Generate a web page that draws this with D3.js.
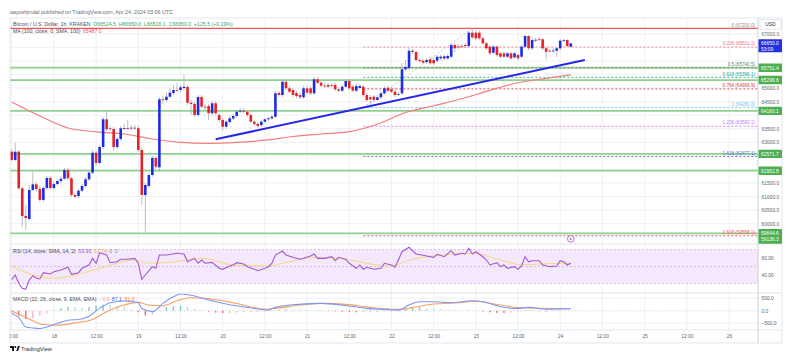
<!DOCTYPE html>
<html><head><meta charset="utf-8">
<script src="https://cdn.jsdelivr.net/npm/d3@7"></script>
<style>html,body{margin:0;padding:0;background:#fff;}svg{display:block;font-family:"Liberation Sans",Arial,sans-serif;}</style>
</head><body>
<svg id="c" width="789" height="357"></svg>
<script>
// ---------------- DATA ----------------
const startTime = "2024-04-17T12:00:00Z"; // first hourly candle
const open = [62654,62348,62654,61305,60284,60173,61242,61452,61279,60874,
61316,61685,61316,61463,61574,61659,61980,61674,61058,61021,
61216,61390,61637,61880,62617,62238,62828,63849,63517,63491,
62828,63123,63517,63528,63517,63539,63517,62717,61058,61390,
61795,62422,62079,64586,64561,64682,64819,64929,64929,65003,
65040,64461,64413,64007,64671,64313,64339,64070,64439,64007,
63823,63576,63749,63878,63971,64129,64166,64129,64007,63760,
63676,63639,63760,63849,63886,63945,64819,64745,65235,64992,
64929,64819,64745,64660,64992,64992,64808,65324,65198,65088,
65114,65114,65114,64955,64903,65051,65261,65051,64903,65003,
65051,64745,64660,64682,64561,64660,64808,65014,64955,64867,
64756,64808,65692,65740,66378,66330,66035,66009,65961,66061,
66035,66009,66098,66090,66098,66157,66588,66526,66551,66588,
66551,67042,67042,67042,66835,66651,66526,66304,66526,66282,
66282,66157,66282,66135,66219,66157,66526,66920,66467,66773,
66799,66799,66467,66378,66378,66378,66467,66747,66773,66524.5];
const high = [62754,62986,62717,61353,60689,61427,61906,61537,61390,61390,
61758,61758,61537,61648,61758,62053,62053,61722,61132,61279,
61463,61722,61943,62717,62680,62901,63934,64129,63602,63565,
63196,63602,63676,63823,63639,63639,63602,62791,61500,61869,
62496,62496,64671,64708,64856,65003,65114,65187,65114,65482,
65114,64561,64487,64745,64745,64413,64413,64524,64524,64081,
63897,63823,63971,64044,64191,64266,64266,64191,64081,63823,
63749,63823,63897,63934,64007,64892,64892,65298,65298,65077,
65003,64892,64819,65077,65077,65077,65409,65409,65261,65187,
65187,65187,65187,65040,65114,65335,65335,65114,65150,65150,
65114,64819,64745,64745,64745,64892,65077,65077,65040,64966,
64856,65925,66035,66478,66441,66404,66109,66072,66109,66146,
66109,66220,66220,66220,66256,66662,66662,66625,66625,66662,
67105,67200,67123,67123,66883,66699,66588,66588,66588,66330,
66330,66330,66330,66330,66256,66588,66957,66957,66846,66846,
66883,66846,66514,66441,66478,66514,66810,66846,66810,66650];
const low = [62311,62311,61242,59889,59767,60099,61205,61168,60800,60800,
61242,61242,61242,61390,61500,61611,61611,60984,60947,60947,
61168,61316,61574,61832,62127,62164,62754,63418,63418,62680,
62754,63049,63454,63454,63454,63454,62643,60689,59705,61316,
61722,62017,61906,64413,64487,64634,64745,64856,64856,64929,
64376,64007,63934,63934,64266,64192,63823,64007,64007,63749,
63454,63491,63676,63823,63897,64081,64081,63934,63713,63602,
63528,63565,63713,63786,63823,63897,64671,64671,64929,64819,
64671,64634,64597,64597,64782,64745,64745,65150,65040,65003,
65003,65040,64892,64856,64856,65003,64929,64856,64856,64966,
64671,64487,64281,64487,64524,64597,64745,64856,64819,64671,
64708,64745,65630,65667,66256,65962,65925,65888,65888,65851,
65851,65961,66035,66035,66035,66109,66330,66441,66478,66478,
66478,66810,66773,66773,66588,66404,66219,66256,66146,66109,
66109,66109,66035,66072,66035,66109,66478,66404,66404,66699,
66736,66404,66061,66330,66293,66146,66404,66699,66514,66516.1];
const close = [62348,62654,61305,60284,60210,61242,61452,61279,60874,61316,
61685,61316,61463,61574,61659,61980,61674,61058,60995,61216,
61390,61637,61880,62617,62238,62828,63849,63480,63491,62828,
63123,63517,63528,63517,63539,63517,62717,61058,61427,61795,
62422,62101,64586,64561,64682,64830,64929,64920,65029,65051,
64461,64413,64007,64671,64313,64300,64070,64439,64070,63823,
63576,63760,63886,63971,64129,64166,64129,64007,63760,63676,
63602,63760,63849,63886,63945,64808,64745,65235,64992,64867,
64745,64708,64660,64992,64830,64808,65324,65198,65088,65080,
65051,65105,64955,64903,65051,65261,64992,64903,65077,65077,
64745,64561,64586,64561,64660,64808,64992,64903,64867,64745,
64782,65692,65777,66378,66330,66035,65998,65936,66035,65914,
65914,66157,66157,66170,66183,66588,66467,66520,66545,66551,
67042,66872,66835,66835,66651,66467,66282,66526,66219,66157,
66157,66282,66098,66282,66098,66526,66920,66467,66773,66780,
66790,66467,66341,66370,66385,66467,66747,66773,66551,66650];

// MA(100) read every 8 candles
const maIdx = [0,8,16,24,32,40,48,56,64,72,80,88,96,104,112,120,128,136,144,152,159];
const maVal = [64487,63971,63528,63384,63307,63123,63001,62960,62994,63078,63215,63307,63392,63665,64100,64347,64605,64918,65195,65361,65487];

// horizontal support / resistance lines (green)
const greenLevels = [65751.4,65296.6,64160.1,62571.7,61952.8,59644.6];
const greenBoxes = [65751.4,65296.6,64160.1,62571.7,61952.8,59644.6,59136.3];
const topLine = 67200.0;

// Fibonacci retracement
const fibRatios = ["0","0.236","0.5","0.618","0.764","1","1.236","1.618","2.618"];
const fibLevels = [67200.0,66511.1,65740.5,65396.1,64969.9,64281.0,63592.1,62477.1,59558.1];
const fibColors = ["#8a8d96","#f27a80","#6f7a70","#28a58c","#d0404a","#6ec0ee","#c27ef0","#5c6bd0","#f05560"];
const fibStartIdx = 100, fibEndIdx = 131;

// Trend line (manual drawing)
const trendTimes = ["2024-04-19T22:00:00Z","2024-04-24T07:00:00Z"];
const trendPrices = [63111, 66035];

// RSI
const rsiIdx = [0,1,2,3,4,5,6,7,8,9,11,12,14,16,17,19,20,22,23,24,25,27,28,30,31,33,35,36,37,38,40,41,42,44,47,49,50,52,53,54,55,57,59,60,62,63,64,66,67,69,70,72,73,74,75,77,78,80,82,83,85,86,87,89,91,92,93,95,96,98,99,100,101,103,105,106,108,109,110,111,113,115,117,118,120,121,123,125,126,128,129,130,131,132,134,135,136,138,139,140,141,143,144,145,146,147,148,150,151,153,155,156,157,158,159];
const rsiVal = [34.9,40,30.2,24.4,23.2,34.1,39.2,36.1,35.3,42.7,41.2,43.9,45.9,49.1,40.8,42.7,47.9,51.8,59.6,53.8,66.2,63.5,54.5,55.6,58.5,58.5,59.6,53.8,34.9,40,49.8,47.9,63.5,63.5,65.5,64.7,55.6,59.6,53.8,57.6,53.8,54.9,47.9,46.7,50.6,51.8,54.5,52.9,49.8,46.7,45.1,47.9,49.8,53.8,63.5,68.2,63.5,60.8,58.5,59.6,62.4,64.7,59.6,59.6,61.5,56.8,60.8,58.5,53.8,47.9,51.8,46.7,49.1,46.7,47.9,53.8,51.8,49.1,58,67.4,72.6,64.7,63.2,62.4,60.8,64.4,61.5,68.6,63.5,65.5,64.7,71.4,64.7,67.4,61.5,57.6,51.8,54.5,49.8,51.8,47.9,49.8,46.7,50.6,61.5,55.6,56.8,56.8,51.8,49.8,50.6,56.8,55.6,51.8,53.95];
const rsiMaIdx = [0,6,12,18,25,35,39,44,54,63,73,77,87,96,104,108,113,120,131,139,145,150,159];
const rsiMaVal = [50.6,40,36.1,40,47.9,57.6,54,54.5,59.6,51.8,50.6,53.8,60.8,57.6,51.8,50.5,57.6,62.4,65.5,57.6,51.8,52.9,53.74];
const rsiBands = [70,50,30];

// MACD
const macdIdx = [0,2,4,6,8,10,13,16,19,22,25,28,32,36,37,40,43,46,48,51,55,61,69,73,75,79,88,96,101,106,110,113,116,120,125,131,134,139,144,147,152,159];
const macdVal = [-105,-266,-645,-685,-710,-645,-508,-375,-347,-214,97,323,391,330,100,-40,298,565,673,621,472,270,97,28,137,230,298,190,97,56,28,230,363,363,323,403,363,161,97,137,69,87.1];
const sigIdx = [0,4,9,13,18,23,27,31,36,39,43,47,51,55,63,72,75,82,88,95,102,110,115,120,127,132,139,145,159];
const sigVal = [-12,-266,-548,-577,-484,-347,-40,190,339,230,200,403,524,500,323,69,97,230,298,258,137,56,150,270,323,380,230,121,91];
const histIdx = [0,2,4,6,8,10,12,14,16,18,20,22,24,26,28,30,32,34,36,38,40,42,44,46,48,50,52,54,56,58,60,62,64,66,68,70,72,74,76,78,80,82,84,86,88,90,92,94,96,98,100,102,104,106,108,110,112,114,116,118,120,122,124,126,128,130,132,134,136,138,140,142,144,146,148,150,152,154,156,158];
const histVal = [-90,-200,-330,-300,-200,-100,10,100,160,140,120,150,210,250,240,210,160,60,-60,-190,-150,20,150,180,200,150,90,30,-30,-70,-90,-90,-75,-60,-45,-40,-35,0,40,55,50,40,25,15,5,-10,-25,-40,-55,-60,-60,-55,-45,-35,-25,-20,90,140,140,110,90,60,30,15,10,15,5,-30,-60,-85,-90,-70,-40,15,-5,-20,-25,-20,-10,-4];

// Axis ticks
const priceTicks = [59500,60000,60500,61000,61500,62000,62500,63000,63500,64000,64500,65000,65500,66000,66500,67000];
const timeTicks = ["2024-04-17T12:00:00Z","2024-04-18T00:00:00Z","2024-04-18T12:00:00Z","2024-04-19T00:00:00Z","2024-04-19T12:00:00Z","2024-04-20T00:00:00Z","2024-04-20T12:00:00Z","2024-04-21T00:00:00Z","2024-04-21T12:00:00Z","2024-04-22T00:00:00Z","2024-04-22T12:00:00Z","2024-04-23T00:00:00Z","2024-04-23T12:00:00Z","2024-04-24T00:00:00Z","2024-04-24T12:00:00Z","2024-04-25T00:00:00Z","2024-04-25T12:00:00Z","2024-04-26T00:00:00Z"];
const rsiTicks = [60,40];
const macdTicks = [500,0,-500];

// ---------------- LAYOUT ----------------
const L = 10, R = 758, AR = 782;
const mainTop = 18, mainBot = 244, rsiBot = 293, macdBot = 330, axisBot = 343;
const svg = d3.select("#c");
svg.append("rect").attr("width",789).attr("height",357).attr("fill","#fff");

const t0 = new Date(startTime).getTime();
const tAt = i => new Date(t0 + i*3600e3);
const x = d3.scaleUtc().domain([new Date("2024-04-18T00:00:00Z"), new Date("2024-04-26T00:00:00Z")]).range([53.9, 729]);
const y = d3.scaleLinear().domain([59644.6, 65751.4]).range([233.3, 67.7]);
const yR = d3.scaleLinear().domain([40, 60]).range([275, 258]);
const yM = d3.scaleLinear().domain([-500, 500]).range([323.3, 298.3]);

const defs = svg.append("defs");
function clip(id, y0, y1){ defs.append("clipPath").attr("id",id).append("rect").attr("x",L).attr("y",y0).attr("width",R-L).attr("height",y1-y0); }
clip("cm", mainTop, mainBot); clip("cr", mainBot, rsiBot); clip("cd", rsiBot, macdBot); clip("ct", macdBot, axisBot);

const gridC = "#eceef2";
const tTicks = timeTicks.map(s => new Date(s));
const inPlot = tTicks.filter(d => x(d) >= L && x(d) <= R);
// vertical grid
svg.append("g").selectAll("line").data(inPlot).join("line")
  .attr("x1",d=>x(d)).attr("x2",d=>x(d)).attr("y1",mainTop).attr("y2",macdBot)
  .attr("stroke",gridC).attr("stroke-width",0.8);
// horizontal grid main
const gGrid = svg.append("g").attr("clip-path","url(#cm)");
gGrid.selectAll("line").data(priceTicks).join("line")
  .attr("x1",L).attr("x2",R).attr("y1",d=>y(d)).attr("y2",d=>y(d))
  .attr("stroke",gridC).attr("stroke-width",0.8);

// ---------------- MAIN PANEL ----------------
const gm = svg.append("g").attr("clip-path","url(#cm)");
gm.selectAll("line.gl").data(greenLevels).join("line").attr("class","gl")
  .attr("x1",L).attr("x2",R).attr("y1",d=>y(d)).attr("y2",d=>y(d))
  .attr("stroke","#8fd08f").attr("stroke-width",1.7);
gm.append("line").attr("x1",L).attr("x2",R).attr("y1",y(topLine)).attr("y2",y(topLine))
  .attr("stroke","#f05a5a").attr("stroke-width",1.2);
const fx0 = x(tAt(fibStartIdx));
gm.selectAll("line.fib").data(fibLevels.slice(1)).join("line").attr("class","fib")
  .attr("x1",fx0).attr("x2",R).attr("y1",d=>y(d)).attr("y2",d=>y(d))
  .attr("stroke",(d,i)=>fibColors[i+1]).attr("stroke-width",0.9).attr("stroke-dasharray","2,2");
gm.append("line").attr("x1",fx0).attr("y1",y(fibLevels[5])).attr("x2",x(tAt(fibEndIdx))).attr("y2",y(fibLevels[0]))
  .attr("stroke","#b8bbc3").attr("stroke-width",0.8).attr("stroke-dasharray","2,2");
svg.append("g").selectAll("text").data(fibLevels).join("text")
  .attr("x",755).attr("y",d=>y(d)-1.8).attr("text-anchor","end").attr("font-size",4.6)
  .attr("fill",(d,i)=>fibColors[i]).text((d,i)=>`${fibRatios[i]} (${d.toFixed(1)})`);

gm.append("path").datum(maIdx.map((d,i)=>[d,maVal[i]]))
  .attr("fill","none").attr("stroke","#f27c7c").attr("stroke-width",1.2)
  .attr("d", d3.line().curve(d3.curveMonotoneX).x(d=>x(tAt(d[0]))).y(d=>y(d[1])));

const cd = open.map((o,i)=>({t:tAt(i),o,h:high[i],l:low[i],c:close[i]}));
gm.selectAll("line.wick").data(cd).join("line").attr("class","wick")
  .attr("x1",d=>x(d.t)).attr("x2",d=>x(d.t)).attr("y1",d=>y(d.h)).attr("y2",d=>y(d.l))
  .attr("stroke","#a9acb4").attr("stroke-width",0.8);
gm.selectAll("rect.body").data(cd).join("rect").attr("class","body")
  .attr("x",d=>x(d.t)-1.3).attr("width",2.6)
  .attr("y",d=>Math.min(y(d.o),y(d.c)))
  .attr("height",d=>Math.max(0.8,Math.abs(y(d.o)-y(d.c))))
  .attr("fill",d=>d.c>=d.o?"#1f2be0":"#e5222a");

gm.append("line")
  .attr("x1",x(new Date(trendTimes[0]))).attr("y1",y(trendPrices[0]))
  .attr("x2",x(new Date(trendTimes[1]))).attr("y2",y(trendPrices[1]))
  .attr("stroke","#2626e6").attr("stroke-width",2);

const ex = x(new Date("2024-04-24T03:00:00Z"));
svg.append("circle").attr("cx",ex).attr("cy",239).attr("r",3.3).attr("fill","#fff").attr("stroke","#b565d8").attr("stroke-width",0.9);
svg.append("path").attr("d",`M${ex-1},${237.6} L${ex+1.4},${239} L${ex-1},${240.4} Z`).attr("fill","#b565d8");

// ---------------- RSI PANEL ----------------
const gr = svg.append("g").attr("clip-path","url(#cr)");
gr.append("rect").attr("x",L).attr("width",R-L).attr("y",yR(70)).attr("height",yR(30)-yR(70)).attr("fill","#f4e9fc");
gr.selectAll("line.rb").data(rsiBands).join("line").attr("class","rb")
  .attr("x1",L).attr("x2",R).attr("y1",d=>yR(d)).attr("y2",d=>yR(d))
  .attr("stroke","#cdb8dc").attr("stroke-width",0.8).attr("stroke-dasharray","2,2");
gr.append("path").datum(rsiMaIdx.map((d,i)=>[d,rsiMaVal[i]]))
  .attr("fill","none").attr("stroke","#f7d77c").attr("stroke-width",1)
  .attr("d", d3.line().curve(d3.curveMonotoneX).x(d=>x(tAt(d[0]))).y(d=>yR(d[1])));
gr.append("path").datum(rsiIdx.map((d,i)=>[d,rsiVal[i]]))
  .attr("fill","none").attr("stroke","#a557d2").attr("stroke-width",1.1)
  .attr("d", d3.line().x(d=>x(tAt(d[0]))).y(d=>yR(d[1])));

// ---------------- MACD PANEL ----------------
const gd = svg.append("g").attr("clip-path","url(#cd)");
gd.selectAll("line.mg").data([500,-500]).join("line").attr("class","mg")
  .attr("x1",L).attr("x2",R).attr("y1",d=>yM(d)).attr("y2",d=>yM(d)).attr("stroke",gridC).attr("stroke-width",0.8);
gd.append("line").attr("x1",L).attr("x2",R).attr("y1",yM(0)).attr("y2",yM(0))
  .attr("stroke","#c9ccd3").attr("stroke-width",0.7).attr("stroke-dasharray","1.5,1.5");
gd.selectAll("rect.h").data(histIdx.map((d,i)=>({i:d,v:histVal[i],p:i>0?histVal[i-1]:histVal[i]}))).join("rect").attr("class","h")
  .attr("x",d=>x(tAt(d.i))-0.7).attr("width",1.4)
  .attr("y",d=>Math.min(yM(d.v),yM(0))).attr("height",d=>Math.abs(yM(d.v)-yM(0)))
  .attr("fill",d=> d.v>=0 ? (d.v>=d.p?"#7fcbc2":"#b8e3de") : (d.v<d.p?"#f26a72":"#f9b9be"));
gd.append("path").datum(sigIdx.map((d,i)=>[d,sigVal[i]]))
  .attr("fill","none").attr("stroke","#f7a064").attr("stroke-width",1.1)
  .attr("d", d3.line().curve(d3.curveMonotoneX).x(d=>x(tAt(d[0]))).y(d=>yM(d[1])));
gd.append("path").datum(macdIdx.map((d,i)=>[d,macdVal[i]]))
  .attr("fill","none").attr("stroke","#7d96f5").attr("stroke-width",1.1)
  .attr("d", d3.line().curve(d3.curveMonotoneX).x(d=>x(tAt(d[0]))).y(d=>yM(d[1])));

// ---------------- FRAME / SEPARATORS ----------------
const sepC = "#dfe2e8";
[mainBot, rsiBot, macdBot].forEach(v=>svg.append("line").attr("x1",L).attr("x2",AR).attr("y1",v).attr("y2",v).attr("stroke",sepC).attr("stroke-width",0.9));
svg.append("line").attr("x1",R).attr("x2",R).attr("y1",mainTop).attr("y2",axisBot).attr("stroke","#c9ccd3").attr("stroke-width",0.9);
svg.append("rect").attr("x",L).attr("y",mainTop).attr("width",AR-L).attr("height",axisBot-mainTop).attr("fill","none").attr("stroke",sepC).attr("stroke-width",0.8);

// ---------------- AXES ----------------
const axC = "#60636e";
function styleAxis(g){ g.select(".domain").remove(); g.selectAll("text").attr("fill",axC); g.attr("font-family",null); }
// price labels hidden by value boxes (as in TradingView)
const cpPrice = close[close.length-1];
const boxCenters = greenBoxes.map(v=>Math.min(y(v), mainBot-4.4)).concat([y(cpPrice)+2.5]);
const visiblePriceTicks = priceTicks.filter(p => boxCenters.every(c => Math.abs(y(p)-c) > (c===y(cpPrice)+2.5 ? 9 : 7.5)));
const pa = svg.append("g").attr("transform",`translate(${R},0)`)
  .call(d3.axisRight(y).tickValues(visiblePriceTicks).tickFormat(d=>d.toFixed(1)).tickSize(0).tickPadding(3.5));
styleAxis(pa); pa.attr("font-size",4.9);
const ra = svg.append("g").attr("transform",`translate(${R},0)`)
  .call(d3.axisRight(yR).tickValues(rsiTicks).tickFormat(d=>d.toFixed(2)).tickSize(0).tickPadding(3.5));
styleAxis(ra); ra.attr("font-size",4.9);
const ma = svg.append("g").attr("transform",`translate(${R},0)`)
  .call(d3.axisRight(yM).tickValues(macdTicks).tickFormat(d=>(d<0?"\u2212":"")+Math.abs(d).toFixed(1)).tickSize(0).tickPadding(3.5));
styleAxis(ma); ma.attr("font-size",4.9);
defs.append("clipPath").attr("id","ctt").append("rect").attr("x",L).attr("y",0).attr("width",R-L).attr("height",20);
const ta = svg.append("g").attr("transform",`translate(0,${macdBot})`).attr("clip-path","url(#ctt)")
  .call(d3.axisBottom(x).tickValues(tTicks).tickFormat(d=>d.getUTCHours()===0?String(d.getUTCDate()):"12:00").tickSize(0).tickPadding(5));
styleAxis(ta); ta.attr("font-size",4.8);

// USD box
svg.append("rect").attr("x",760).attr("y",19.8).attr("width",21).attr("height",9.4).attr("fill","#fff").attr("stroke","#d6d9df").attr("stroke-width",0.7);
svg.append("text").attr("x",770.5).attr("y",26.3).attr("text-anchor","middle").attr("font-size",4.9).attr("fill","#2a2e39").text("USD");

// green value boxes
const gb = svg.append("g");
greenBoxes.forEach(v=>{
  let cy = Math.min(y(v), mainBot-4.4);
  gb.append("rect").attr("x",R+0.5).attr("y",cy-4.2).attr("width",AR-R-0.5).attr("height",8.4).attr("fill","#4caf50").attr("rx",0.6);
  gb.append("text").attr("x",R+3).attr("y",cy+1.8).attr("font-size",4.9).attr("fill","#fff").text(v.toFixed(1));
});
// current price box
svg.append("rect").attr("x",R+0.5).attr("y",y(cpPrice)-4).attr("width",AR-R-0.5).attr("height",13).attr("fill","#2430dc").attr("rx",0.6);
svg.append("text").attr("x",R+3).attr("y",y(cpPrice)+1.8).attr("font-size",4.9).attr("fill","#fff").text(cpPrice.toFixed(1));
svg.append("text").attr("x",R+3).attr("y",y(cpPrice)+7.3).attr("font-size",4.9).attr("fill","#fff").text("53:09");

// ---------------- TEXTS ----------------
svg.append("text").attr("x",10).attr("y",14).attr("font-size",5.3).attr("fill","#6a6d78")
  .text("aayushjindal published on TradingView.com, Apr 24, 2024 03:06 UTC");
const lg1 = svg.append("text").attr("x",13).attr("y",25.7).attr("font-size",5.2).attr("fill","#4a4d58").attr("xml:space","preserve");
lg1.append("tspan").text("Bitcoin / U.S. Dollar, 1h, KRAKEN");
lg1.append("tspan").attr("dx",2.5).attr("fill","#3d9f70")
  .text(`O${open[159].toFixed(1)}  H${high[159].toFixed(1)}  L${low[159].toFixed(1)}  C${close[159].toFixed(1)}  +125.5 (+0.19%)`);
const lg2 = svg.append("text").attr("x",13).attr("y",32.6).attr("font-size",5.2).attr("fill","#4a4d58");
lg2.append("tspan").text("MA (100, close, 0, SMA, 100)");
lg2.append("tspan").attr("dx",2.5).attr("fill","#f05a5a").text(maVal[maVal.length-1].toFixed(1));

const lg3 = svg.append("text").attr("x",13).attr("y",252.5).attr("font-size",5.2).attr("fill","#4a4d58");
lg3.append("tspan").text("RSI (14, close, SMA, 14, 2)");
lg3.append("tspan").attr("dx",2.5).attr("fill","#a557d2").text(rsiVal[rsiVal.length-1].toFixed(2));
lg3.append("tspan").attr("dx",2.5).attr("fill","#e9b93a").text(rsiMaVal[rsiMaVal.length-1].toFixed(2));
lg3.append("tspan").attr("dx",2.5).attr("fill","#8a8d96").text("0");
lg3.append("tspan").attr("dx",2.5).attr("fill","#8a8d96").text("0");

const lg4 = svg.append("text").attr("x",13).attr("y",301.2).attr("font-size",5.2).attr("fill","#4a4d58");
lg4.append("tspan").text("MACD (12, 26, close, 9, EMA, EMA)");
lg4.append("tspan").attr("dx",2.5).attr("fill","#f4a0a6").text("\u22123.9");
lg4.append("tspan").attr("dx",2.5).attr("fill","#3f67f0").text(macdVal[macdVal.length-1].toFixed(1));
lg4.append("tspan").attr("dx",2.5).attr("fill","#f4862e").text(sigVal[sigVal.length-1].toFixed(1));

// TradingView logo
const lgG = svg.append("g").attr("transform","translate(10,346)");
lgG.append("path").attr("d","M0,0 H4 V5 H2 V2 H0 Z").attr("fill","#131722");
lgG.append("circle").attr("cx",5.3).attr("cy",1).attr("r",1).attr("fill","#131722");
lgG.append("path").attr("d","M6.2,5 L8,0 H10 L8,5 Z").attr("fill","#131722");
svg.append("text").attr("x",21).attr("y",351).attr("font-size",5.6).attr("fill","#2a2e39").text("TradingView");
</script>
</body></html>
